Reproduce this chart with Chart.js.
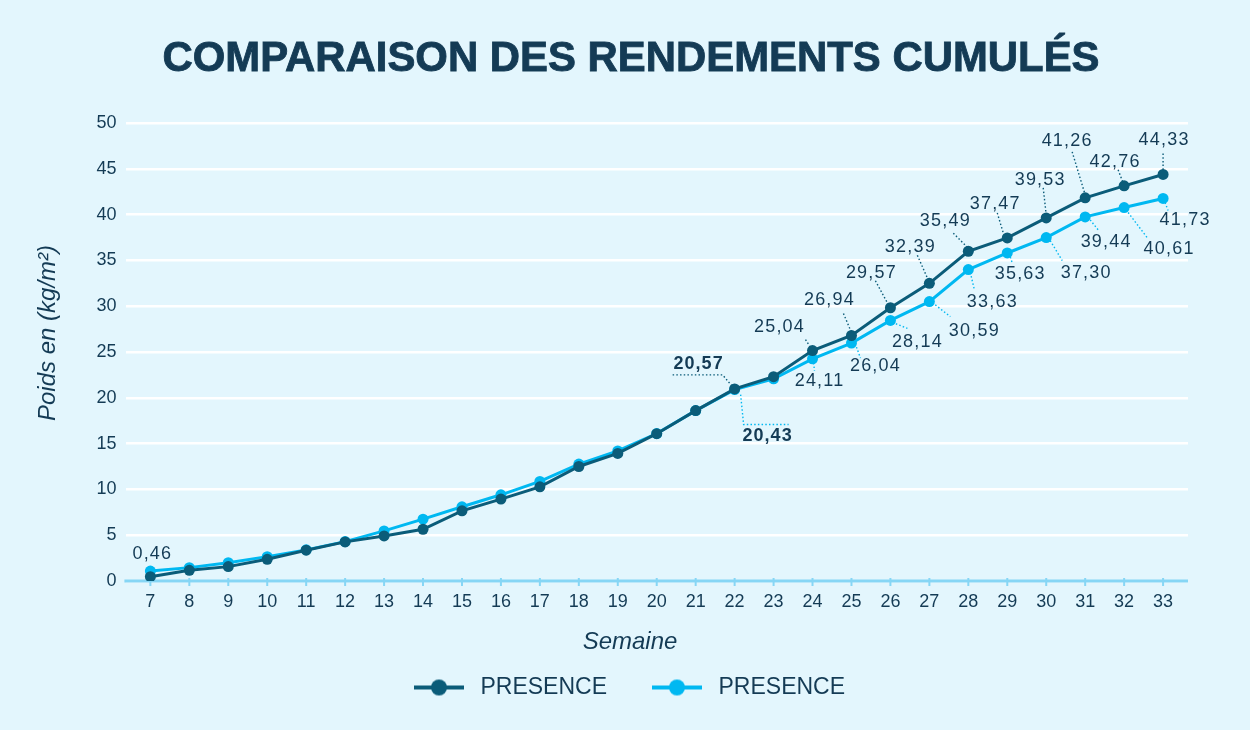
<!DOCTYPE html>
<html>
<head>
<meta charset="utf-8">
<script src="https://cdn.jsdelivr.net/npm/chart.js@4.4.1/dist/chart.umd.min.js"></script>
<style>
html,body{margin:0;padding:0;background:#e3f6fd;}
#wrap{width:1250px;height:730px;position:relative;}
</style>
</head>
<body>
<div id="wrap"><canvas id="c" width="1250" height="730"></canvas></div>
<script>
// ---------- DATA ----------
const chartTitle = 'COMPARAISON DES RENDEMENTS CUMULÉS';
const xTitle = 'Semaine';
const yTitle = 'Poids en (kg/m²)';
const weeks = [7,8,9,10,11,12,13,14,15,16,17,18,19,20,21,22,23,24,25,26,27,28,29,30,31,32,33];
const seriesNames = ['PRESENCE', 'PRESENCE'];
const presenceDark  = [0.47,1.17,1.57,2.37,3.36,4.27,4.92,5.65,7.66,8.94,10.28,12.50,13.93,16.08,18.60,20.97,22.30,25.16,26.80,29.83,32.50,36.00,37.45,39.64,41.83,43.14,44.38];
const presenceLight = [1.09,1.46,2.00,2.66,3.40,4.30,5.47,6.75,8.10,9.41,10.87,12.76,14.20,16.10,18.60,20.90,22.07,24.25,25.97,28.45,30.50,34.00,35.81,37.49,39.75,40.77,41.76];
const labelsDark  = ['0,46',null,null,null,null,null,null,null,null,null,null,null,null,null,null,'20,57',null,'25,04','26,94','29,57','32,39','35,49','37,47','39,53','41,26','42,76','44,33'];
const labelsLight = [null,null,null,null,null,null,null,null,null,null,null,null,null,null,null,'20,43',null,'24,11','26,04','28,14','30,59','33,63','35,63','37,30','39,44','40,61','41,73'];
const yTickValues = [0,5,10,15,20,25,30,35,40,45,50];

// ---------- LAYOUT / STYLE (label placement relative to marker, in px) ----------
const placeDark = {
  0:  {t:[2,-23], l:null},
  15: {t:[-36,-25], l:[[-62,-14],[-12,-14],[-1,-1]], bold:true},
  17: {t:[-33,-24], l:[[-7,-11],[-2,-3]]},
  18: {t:[-22,-35], l:[[-8,-22],[0,-3]]},
  19: {t:[-19,-35], l:[[-15,-27],[-2,-3]]},
  20: {t:[-19,-36], l:[[-12,-28],[-1,-3]]},
  21: {t:[-23,-30], l:[[-15,-18],[0,-3]]},
  22: {t:[-12,-34], l:[[-10,-25],[-4,-5]]},
  23: {t:[-6,-38],  l:[[-3,-30],[0,-3]]},
  24: {t:[-18,-57], l:[[-13,-46],[0,-3]]},
  25: {t:[-9,-24],  l:[[-6,-16],[-1,-3]]},
  26: {t:[1,-34],   l:[[0,-21],[0,-3]]}
};
const placeLight = {
  15: {t:[33,46], l:[[6,5],[9,35],[54,35]], bold:true},
  17: {t:[7,22],  l:[[1,4],[2,12]]},
  18: {t:[24,23], l:[[5,4],[9,15]]},
  19: {t:[27,22], l:[[2,2],[17,8]]},
  20: {t:[45,29], l:[[3,1],[21,15]]},
  21: {t:[24,32], l:[[2,3],[6,20]]},
  22: {t:[13,21], l:[[3,4],[5,10]]},
  23: {t:[40,35], l:[[4,3],[16,23]]},
  24: {t:[21,25], l:[[5,3],[13,13]]},
  25: {t:[45,41], l:[[4,5],[23,30]]},
  26: {t:[22,22], l:[[2,4],[5,12]]}
};
const C_BG = '#e3f6fd';
const C_TEXT = '#143b55';
const C_DARK = '#0b5c79';
const C_LIGHT = '#00b8f1';
const C_AXIS = '#86d6f5';
const FONT = '"Liberation Sans", Arial, Helvetica, sans-serif';

// legend swatch images (line + dot, with blank lead-in so the legend sits where the original does)
function swatch(color){
  const cv = document.createElement('canvas');
  cv.width = 96; cv.height = 18;
  const g = cv.getContext('2d');
  g.strokeStyle = color; g.lineWidth = 4;
  g.beginPath(); g.moveTo(41,9); g.lineTo(91,9); g.stroke();
  g.fillStyle = color;
  g.beginPath(); g.arc(66,9,8,0,Math.PI*2); g.fill();
  return cv;
}
const swatches = [swatch(C_DARK), swatch(C_LIGHT)];

const bgTitlePlugin = {
  id:'bgTitle',
  beforeDraw(chart){
    const ctx = chart.ctx;
    ctx.save();
    ctx.fillStyle = C_BG;
    ctx.fillRect(0,0,chart.width,chart.height);
    ctx.font = 'bold 43px ' + FONT;
    ctx.fillStyle = C_TEXT;
    ctx.strokeStyle = C_TEXT;
    ctx.lineWidth = 0.9;
    ctx.textAlign = 'center';
    ctx.textBaseline = 'middle';
    const w = ctx.measureText(chartTitle).width;
    const target = 937;
    ctx.translate(631, 59);
    ctx.scale(target / w, 1);
    ctx.fillText(chartTitle, 0, 0);
    ctx.strokeText(chartTitle, 0, 0);
    ctx.restore();
  }
};

const axisPlugin = {
  id:'axisLine',
  beforeDatasetsDraw(chart){
    const ctx = chart.ctx, a = chart.chartArea, xs = chart.scales.x;
    ctx.save();
    ctx.strokeStyle = C_AXIS;
    ctx.lineWidth = 3;
    ctx.beginPath(); ctx.moveTo(a.left - 2, a.bottom); ctx.lineTo(a.right, a.bottom); ctx.stroke();
    ctx.lineWidth = 2;
    xs.ticks.forEach(t => {
      const x = xs.getPixelForValue(t.value);
      ctx.beginPath(); ctx.moveTo(x, a.bottom - 3); ctx.lineTo(x, a.bottom + 5); ctx.stroke();
    });
    ctx.restore();
  },
  afterDraw(chart){
    const ctx = chart.ctx;
    ctx.save();
    ctx.fillStyle = C_TEXT;
    ctx.font = 'italic 24px ' + FONT;
    ctx.textAlign = 'center';
    ctx.textBaseline = 'middle';
    ctx.fillText(xTitle, 630, 642);
    ctx.translate(48, 333);
    ctx.rotate(-Math.PI / 2);
    ctx.fillText(yTitle, 0, 0);
    ctx.restore();
  }
};

const labelPlugin = {
  id:'valueLabels',
  afterDatasetsDraw(chart){
    const ctx = chart.ctx;
    const sets = [[labelsDark, placeDark, C_DARK, 0],[labelsLight, placeLight, C_LIGHT, 1]];
    ctx.save();
    sets.forEach(([labs, place, col, di]) => {
      const meta = chart.getDatasetMeta(di);
      labs.forEach((txt, i) => {
        if (!txt) return;
        const p = meta.data[i];
        const pl = place[i];
        if (!pl) return;
        if (pl.l) {
          ctx.strokeStyle = col;
          ctx.lineWidth = 1.4;
          ctx.setLineDash([1.5, 2.2]);
          ctx.beginPath();
          pl.l.forEach((q, k) => { if (k === 0) ctx.moveTo(p.x + q[0], p.y + q[1]); else ctx.lineTo(p.x + q[0], p.y + q[1]); });
          ctx.stroke();
          ctx.setLineDash([]);
        }
        ctx.font = (pl.bold ? 'bold ' : '') + '18px ' + FONT;
        ctx.letterSpacing = pl.bold ? '1px' : '1.2px';
        ctx.fillStyle = C_TEXT;
        ctx.textAlign = 'center';
        ctx.textBaseline = 'middle';
        ctx.fillText(txt, p.x + pl.t[0], p.y + pl.t[1]);
        ctx.letterSpacing = '0px';
      });
    });
    ctx.restore();
  }
};

const ptsDark = weeks.map((w, i) => ({x: w, y: presenceDark[i]}));
const ptsLight = weeks.map((w, i) => ({x: w, y: presenceLight[i]}));

new Chart(document.getElementById('c'), {
  type: 'line',
  data: {
    datasets: [
      {label: seriesNames[0], data: ptsDark, borderColor: C_DARK, backgroundColor: C_DARK, borderWidth: 3, pointRadius: 5.5, pointBackgroundColor: C_DARK, pointBorderWidth: 0, tension: 0},
      {label: seriesNames[1], data: ptsLight, borderColor: C_LIGHT, backgroundColor: C_LIGHT, borderWidth: 3, pointRadius: 5.5, pointBackgroundColor: C_LIGHT, pointBorderWidth: 0, tension: 0}
    ]
  },
  options: {
    responsive: false,
    animation: false,
    devicePixelRatio: 1,
    layout: {padding: {top: 123, left: 30, right: 62, bottom: 21}},
    plugins: {
      title: {display: false},
      tooltip: {enabled: false},
      legend: {
        display: true,
        position: 'bottom',
        fullSize: true,
        labels: {
          usePointStyle: true,
          pointStyleWidth: 96,
          padding: 4,
          color: C_TEXT,
          font: {family: FONT, size: 23},
          generateLabels(chart){
            return chart.data.datasets.map((d, i) => ({
              text: d.label, pointStyle: swatches[i], fillStyle: d.borderColor,
              strokeStyle: 'rgba(0,0,0,0)', lineWidth: 0, hidden: false, datasetIndex: i, fontColor: C_TEXT
            }));
          }
        }
      }
    },
    scales: {
      x: {
        type: 'linear',
        min: 6.385, max: 33.64,
        grid: {display: false, drawTicks: false},
        border: {display: false},
        ticks: {stepSize: 1, includeBounds: false, padding: 10, color: C_TEXT, font: {family: FONT, size: 18}, callback: v => String(v)},
        title: {display: false},
        afterFit(scale){ scale.height += 49.4; }
      },
      y: {
        min: 0, max: 50,
        afterBuildTicks(scale){ scale.ticks = yTickValues.map(v => ({value: v})); },
        grid: {color: '#ffffff', lineWidth: 2.5, drawTicks: false},
        border: {display: false},
        ticks: {padding: 10, color: C_TEXT, font: {family: FONT, size: 18}},
        title: {display: false},
        afterFit(scale){ scale.width += 56.4; }
      }
    }
  },
  plugins: [bgTitlePlugin, axisPlugin, labelPlugin]
});
</script>
</body>
</html>
